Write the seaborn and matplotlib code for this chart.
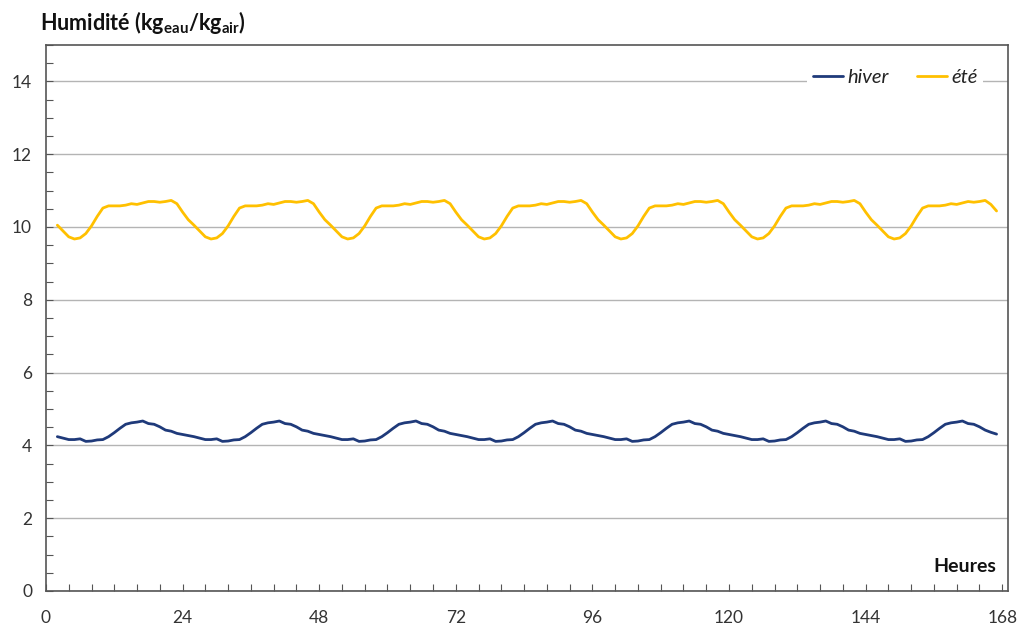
import pandas as pd
import matplotlib.pyplot as plt
import seaborn as sns

# heures de la semaine (2 -> 167)
hours = list(range(2, 168))

hiver = [
    4.24, 4.20, 4.16, 4.16, 4.18, 4.11, 4.12, 4.15, 4.16, 4.24, 4.35, 4.47, 4.58, 4.62, 4.64, 4.67, 4.60, 4.58, 4.51, 4.42, 4.39, 4.33,
    4.30, 4.27, 4.24, 4.20, 4.16, 4.16, 4.18, 4.11, 4.12, 4.15, 4.16, 4.24, 4.35, 4.47, 4.58, 4.62, 4.64, 4.67, 4.60, 4.58, 4.51, 4.42, 4.39, 4.33,
    4.30, 4.27, 4.24, 4.20, 4.16, 4.16, 4.18, 4.11, 4.12, 4.15, 4.16, 4.24, 4.35, 4.47, 4.58, 4.62, 4.64, 4.67, 4.60, 4.58, 4.51, 4.42, 4.39, 4.33,
    4.30, 4.27, 4.24, 4.20, 4.16, 4.16, 4.18, 4.11, 4.12, 4.15, 4.16, 4.24, 4.35, 4.47, 4.58, 4.62, 4.64, 4.67, 4.60, 4.58, 4.51, 4.42, 4.39, 4.33,
    4.30, 4.27, 4.24, 4.20, 4.16, 4.16, 4.18, 4.11, 4.12, 4.15, 4.16, 4.24, 4.35, 4.47, 4.58, 4.62, 4.64, 4.67, 4.60, 4.58, 4.51, 4.42, 4.39, 4.33,
    4.30, 4.27, 4.24, 4.20, 4.16, 4.16, 4.18, 4.11, 4.12, 4.15, 4.16, 4.24, 4.35, 4.47, 4.58, 4.62, 4.64, 4.67, 4.60, 4.58, 4.51, 4.42, 4.39, 4.33,
    4.30, 4.27, 4.24, 4.20, 4.16, 4.16, 4.18, 4.11, 4.12, 4.15, 4.16, 4.24, 4.35, 4.47, 4.58, 4.62, 4.64, 4.67, 4.60, 4.58, 4.51, 4.42, 4.36, 4.31,
]

ete = [
    10.05, 9.89, 9.73, 9.67, 9.70, 9.82, 10.03, 10.29, 10.52, 10.58, 10.58, 10.58, 10.60, 10.64, 10.62, 10.66, 10.70, 10.70, 10.68, 10.70, 10.73, 10.64,
    10.41, 10.20, 10.05, 9.89, 9.73, 9.67, 9.70, 9.82, 10.03, 10.29, 10.52, 10.58, 10.58, 10.58, 10.60, 10.64, 10.62, 10.66, 10.70, 10.70, 10.68, 10.70, 10.73, 10.64,
    10.41, 10.20, 10.05, 9.89, 9.73, 9.67, 9.70, 9.82, 10.03, 10.29, 10.52, 10.58, 10.58, 10.58, 10.60, 10.64, 10.62, 10.66, 10.70, 10.70, 10.68, 10.70, 10.73, 10.64,
    10.41, 10.20, 10.05, 9.89, 9.73, 9.67, 9.70, 9.82, 10.03, 10.29, 10.52, 10.58, 10.58, 10.58, 10.60, 10.64, 10.62, 10.66, 10.70, 10.70, 10.68, 10.70, 10.73, 10.64,
    10.41, 10.20, 10.05, 9.89, 9.73, 9.67, 9.70, 9.82, 10.03, 10.29, 10.52, 10.58, 10.58, 10.58, 10.60, 10.64, 10.62, 10.66, 10.70, 10.70, 10.68, 10.70, 10.73, 10.64,
    10.41, 10.20, 10.05, 9.89, 9.73, 9.67, 9.70, 9.82, 10.03, 10.29, 10.52, 10.58, 10.58, 10.58, 10.60, 10.64, 10.62, 10.66, 10.70, 10.70, 10.68, 10.70, 10.73, 10.64,
    10.41, 10.20, 10.05, 9.89, 9.73, 9.67, 9.70, 9.82, 10.03, 10.29, 10.52, 10.58, 10.58, 10.58, 10.60, 10.64, 10.62, 10.66, 10.70, 10.68, 10.70, 10.73, 10.62, 10.44,
]

series_names = ["hiver", "été"]
colors = ["#1f3a7a", "#ffc000"]
x_ticks = [0, 24, 48, 72, 96, 120, 144, 168]

df = pd.concat([
    pd.DataFrame({"Heure": hours, "Humidite": hiver, "Saison": "hiver"}),
    pd.DataFrame({"Heure": hours, "Humidite": ete, "Saison": "été"}),
])

sns.set_style("white")
plt.rcParams["font.family"] = ["Lato", "DejaVu Sans"]
plt.rcParams["mathtext.fontset"] = "custom"
plt.rcParams["mathtext.rm"] = "Lato"
plt.rcParams["mathtext.bf"] = "Lato:bold"

fig = plt.figure(figsize=(10.17, 6.31), dpi=100)
ax = fig.add_axes([0.0452, 0.0634, 0.9459, 0.8653])

sns.lineplot(data=df, x="Heure", y="Humidite", hue="Saison", hue_order=series_names,
             palette=colors, linewidth=2.0, ax=ax, zorder=3)

ax.set_xlim(0, 169)
ax.set_ylim(0, 15)
ax.set_xticks(x_ticks)
ax.set_xticks(range(0, 169, 4), minor=True)
ax.set_yticks(range(0, 15, 2))
ax.set_yticks([v / 2 for v in range(0, 31)], minor=True)
ax.grid(axis="y", which="major", color="#b4b4b4", linewidth=1.0, zorder=0)
ax.set_axisbelow(True)

ax.tick_params(axis="both", which="both", direction="in", colors="#555555",
               labelcolor="#333333", bottom=True, left=True)
ax.tick_params(axis="both", which="major", length=5, width=0.8)
ax.tick_params(axis="both", which="minor", length=5, width=0.8)
ax.tick_params(axis="y", which="major", labelsize=12.5, pad=10)
ax.tick_params(axis="x", which="major", labelsize=12.5, pad=14)

for sp in ax.spines.values():
    sp.set_color("#555555")
    sp.set_linewidth(1.2)

ax.set_xlabel("")
ax.set_ylabel("")

fig.text(0.039, 0.965, r"Humidité (kg$_{\mathbf{eau}}$/kg$_{\mathbf{air}}$)",
         fontsize=15.5, fontweight="bold", color="#111111", va="center", ha="left")
ax.text(0.988, 0.03, "Heures", transform=ax.transAxes, fontsize=14,
        fontweight="bold", ha="right", va="bottom", color="#111111")

leg = ax.legend(loc="upper right", bbox_to_anchor=(0.985, 0.985), ncol=2,
                frameon=True, fancybox=False, edgecolor="none", facecolor="white",
                framealpha=1, fontsize=14.5, handlelength=1.5, handletextpad=0.2,
                columnspacing=1.4, borderpad=0.3)
for t in leg.get_texts():
    t.set_fontstyle("italic")
    t.set_color("#222222")

fig.savefig("out.png", dpi=100)
